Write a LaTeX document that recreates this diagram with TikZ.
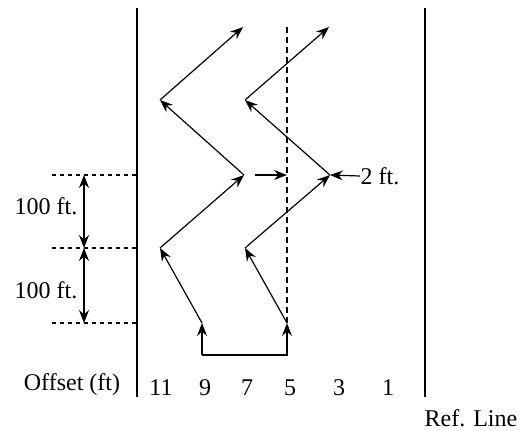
\documentclass[tikz,border=0pt]{standalone}
\usepackage{fontspec}
\setmainfont{Liberation Serif}
\usetikzlibrary{arrows.meta, calc}

\begin{document}
\begin{tikzpicture}[x=0.5pt, y=-0.5pt, line width=0.6pt, >={Stealth[length=6.5pt, width=5pt, inset=2.2pt]}, every node/.style={font=\fontsize{12}{14}\selectfont}]
  \useasboundingbox (0,0) rectangle (520,430);
  % offset lines
  \draw (137,8) -- (137,397);
  \draw (425,8) -- (425,397);
  \draw[dash pattern=on 3pt off 2pt] (287,27) -- (287,323);
  % stations
  \foreach \y/\n in {175/a, 248/b, 323/c} {
    \coordinate (sta\n) at (137,\y);
    \draw[dash pattern=on 2pt off 2pt] (52,\y) -- (sta\n);
  }
  \draw[<->] (84,175) -- (84,248);
  \draw[<->] (84,248) -- (84,323);
  \node[anchor=east, inner sep=0pt] (spanA) at (78,206) {100 ft.};
  \node[anchor=east, inner sep=0pt] (spanB) at (78,290) {100 ft.};
  % left run
  \coordinate (l0) at (202,355);
  \coordinate (l1) at (202,323);
  \coordinate (l2) at (160,248);
  \coordinate (l3) at (244,175);
  \coordinate (l4) at (160,100);
  \coordinate (l5) at (243,27);
  % right run
  \coordinate (r0) at (287,355);
  \coordinate (r1) at (287,323);
  \coordinate (r2) at (245,248);
  \coordinate (r3) at (330,175);
  \coordinate (r4) at (245,100);
  \coordinate (r5) at (329,27);
  \draw[->] (l0) -- (l1);
  \draw[->] (l0) -- (r0) -- (r1);
  \foreach \i/\j in {1/2, 2/3, 3/4, 4/5} {
    \draw[->] (l\i) -- (l\j);
    \draw[->] (r\i) -- (r\j);
  }
  % shift
  \coordinate (shiftFrom) at (255,175);
  \coordinate (shiftTo) at (287,175);
  \draw[->] (shiftFrom) -- (shiftTo);
  \node[anchor=west, inner sep=0pt] (gap) at (360,176) {2 ft.};
  \draw[->] (gap.west) -- (r3);
  % labels
  \node (offset) at (72,385) {Offset (ft)};
  \foreach \x/\v in {161/11, 205/9, 247/7, 290/5, 339/3, 388/1}
    \node (off\v) at (\x,388) {\v};
  \node[inner sep=0pt, anchor=base] (refline) at (471,426) {Ref. Line};
\end{tikzpicture}
\end{document}
